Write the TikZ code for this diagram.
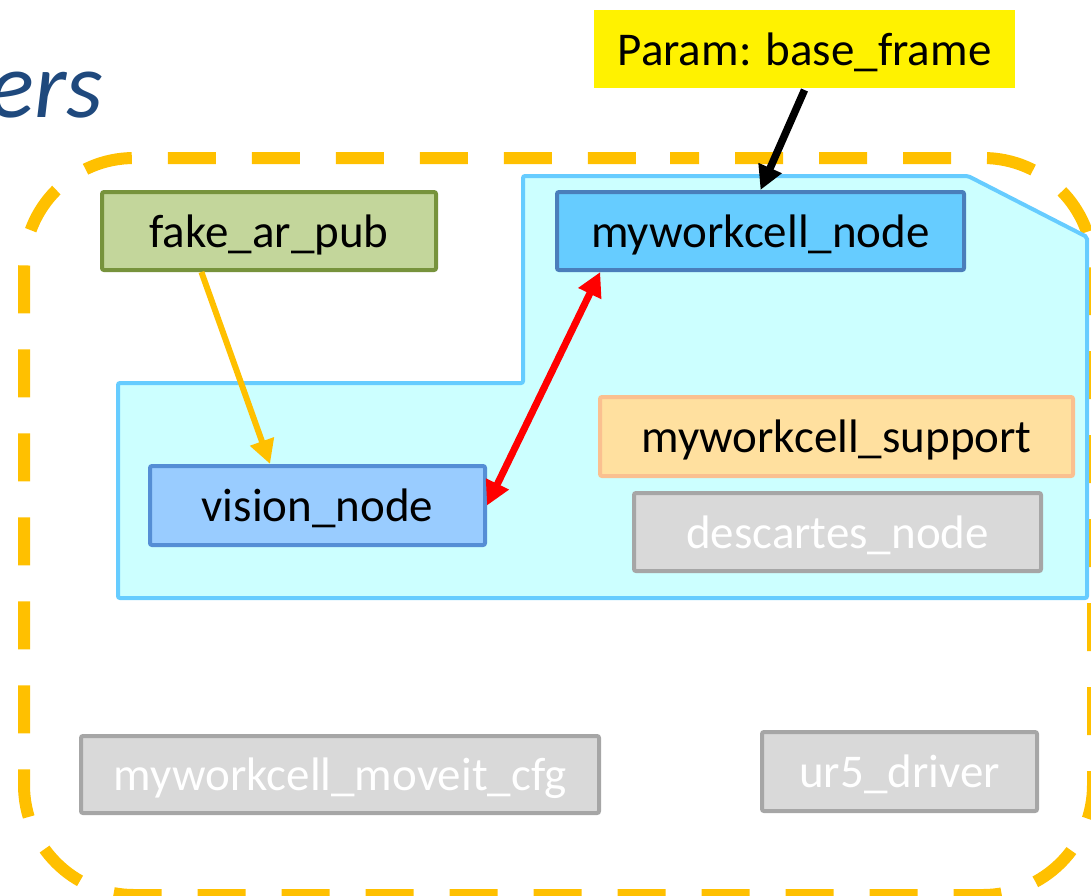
\documentclass[tikz,border=0pt]{standalone}
\usepackage{fontspec}
\setmainfont{Carlito}
\usetikzlibrary{arrows.meta,calc}

\definecolor{titleblue}{HTML}{1F497D}
\definecolor{groupline}{HTML}{FFC000}
\definecolor{regionfill}{HTML}{CCFFFF}
\definecolor{regionline}{HTML}{66CCFF}
\definecolor{greenfill}{HTML}{C3D69B}
\definecolor{greenline}{HTML}{77933C}
\definecolor{nodefill}{HTML}{66CCFF}
\definecolor{nodeline}{HTML}{4A7EBB}
\definecolor{visfill}{HTML}{99CCFF}
\definecolor{visline}{HTML}{558ED5}
\definecolor{supfill}{HTML}{FFE09F}
\definecolor{supline}{HTML}{FAC090}
\definecolor{greyfill}{HTML}{D9D9D9}
\definecolor{greyline}{HTML}{A6A6A6}

\tikzset{headtip/.tip={Triangle[width=24pt,length=24pt]}}

\begin{document}
\begin{tikzpicture}[x=1pt,y=-1pt,
  pkg/.style={rectangle, rounded corners=2pt, line width=4pt, inner sep=0pt,
    font=\fontsize{47}{56}\selectfont, text=black, text depth=0pt},
  greenbox/.style={pkg, fill=greenfill, draw=greenline},
  bluebox/.style={pkg, fill=nodefill, draw=nodeline},
  visbox/.style={pkg, fill=visfill, draw=visline},
  supbox/.style={pkg, fill=supfill, draw=supline},
  greybox/.style={pkg, fill=greyfill, draw=greyline, text=white},
  parambox/.style={pkg, fill=yellow, draw=none, rounded corners=0pt},
  grouping/.style={draw=groupline, line width=12pt, dash pattern=on 48pt off 36pt,
    dash phase=19pt, rounded corners=110pt},
  region/.style={draw=regionline, fill=regionfill, line width=4pt, rounded corners=2pt}
]
\useasboundingbox (0,0) rectangle (1091,895);

% heading fragment
\node[anchor=base east, inner sep=0pt, text=titleblue,
  font=\fontsize{94}{104}\selectfont\itshape] (title) at (103,117) {ers};

% dashed grouping outline, started mid-way along the top edge
\draw[grouping] (560,158) -- (1093,158) -- (1093,895) -- (24,895) -- (24,158) -- cycle;

% shaded region
\draw[region] (118,383) -- (523,383) -- (523,176) -- (968,176) -- (1087,237)
  -- (1087,598) -- (118,598) -- cycle;

% packages and nodes
\node[parambox, minimum width=421pt, minimum height=78pt] (param) at (804.5,49) {Param: base\_frame};
\node[greenbox, minimum width=334pt, minimum height=78pt] (fake) at (269,231) {fake\_ar\_pub};
\node[bluebox, minimum width=407pt, minimum height=78pt] (mwn) at (760.5,231) {myworkcell\_node};
\node[visbox, minimum width=335pt, minimum height=79pt] (vis) at (317.5,505.5) {vision\_node};
\node[supbox, minimum width=473pt, minimum height=79pt] (sup) at (836.5,436.5) {myworkcell\_support};
\node[greybox, minimum width=407pt, minimum height=78pt] (desc) at (837.5,532) {descartes\_node};
\node[greybox, minimum width=518pt, minimum height=77pt] (moveit) at (340,774.5) {myworkcell\_moveit\_cfg};
\node[greybox, minimum width=275pt, minimum height=79pt] (ur5) at (899.5,771.5) {ur5\_driver};

% connectors
\draw[-headtip, line width=7.5pt, black] (param.south) -- (mwn.north);
\draw[-headtip, line width=6pt, groupline]
  ($(fake.south west)!0.3!(fake.south east)$) -- ($(vis.north west)!0.36!(vis.north east)$);
\draw[headtip-headtip, line width=7pt, red]
  (vis.east) -- ($(mwn.south west)!0.11!(mwn.south east)$);
\end{tikzpicture}
\end{document}
